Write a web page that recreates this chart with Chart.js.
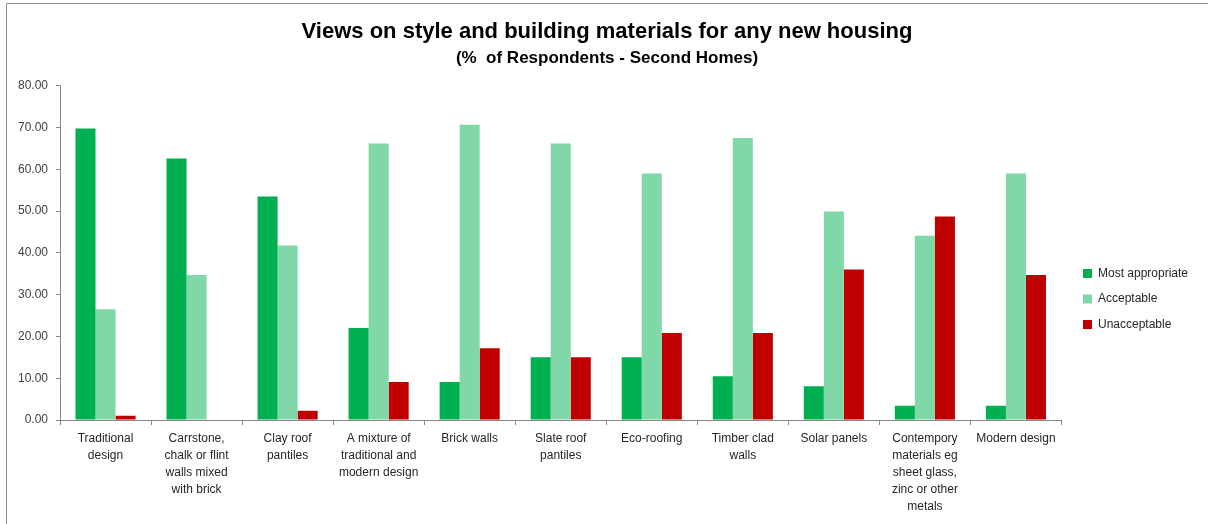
<!DOCTYPE html>
<html>
<head>
<meta charset="utf-8">
<script src="https://cdn.jsdelivr.net/npm/chart.js@4/dist/chart.umd.min.js"></script>
<style>
  html, body { margin: 0; padding: 0; background: #ffffff; }
  #wrap { position: relative; width: 1208px; height: 524px; }
</style>
</head>
<body>
<div id="wrap"><canvas id="c" width="1208" height="524"></canvas></div>
<script>
const categories = [
  ["Traditional", "design"],
  ["Carrstone,", "chalk or flint", "walls mixed", "with brick"],
  ["Clay roof", "pantiles"],
  ["A mixture of", "traditional and", "modern design"],
  ["Brick walls"],
  ["Slate roof", "pantiles"],
  ["Eco-roofing"],
  ["Timber clad", "walls"],
  ["Solar panels"],
  ["Contempory", "materials eg", "sheet glass,", "zinc or other", "metals"],
  ["Modern design"]
];
const mostAppropriate = [69.8, 62.6, 53.5, 22.0, 9.1, 15.0, 15.0, 10.5, 8.1, 3.4, 3.4];
const acceptable      = [26.5, 34.7, 41.8, 66.2, 70.7, 66.2, 59.0, 67.5, 49.9, 44.1, 59.0];
const unacceptable    = [1.0, 0.0, 2.2, 9.1, 17.2, 15.0, 20.8, 20.8, 36.0, 48.7, 34.7];
const seriesNames = ["Most appropriate", "Acceptable", "Unacceptable"];
const yTicks = [0, 10, 20, 30, 40, 50, 60, 70, 80];
const titleText = 'Views on style and building materials for any new housing';
const subtitleText = '(%  of Respondents - Second Homes)';

const FONT = "'Liberation Sans', Arial, sans-serif";
const TITLE_FONT = "'Liberation Sans', Arial, sans-serif";

const framePlugin = {
  id: 'frame',
  beforeDraw(chart) {
    const ctx = chart.ctx;
    ctx.save();
    ctx.fillStyle = '#ffffff';
    ctx.fillRect(0, 0, chart.width, chart.height);
    ctx.strokeStyle = '#8c8c8c';
    ctx.lineWidth = 1;
    ctx.beginPath();
    ctx.moveTo(6.5, chart.height);
    ctx.lineTo(6.5, 3.5);
    ctx.lineTo(chart.width, 3.5);
    ctx.stroke();
    ctx.restore();
  }
};

const boxShift = {
  id: 'boxShift',
  afterLayout(chart) {
    const lg = chart.legend;
    if (lg) {
      const dx = 1069.5 - lg.left;
      const dy = 37;
      lg.left += dx; lg.right += dx;
      lg.top += dy; lg.bottom += dy;
    }
    chart.boxes.forEach(b => {
      if (b && b.options && (b.options.text === titleText || b.options.text === subtitleText)) {
        b.left += 8; b.right += 8;
      }
    });
  }
};

new Chart(document.getElementById('c'), {
  type: 'bar',
  data: {
    labels: categories,
    datasets: [
      { label: seriesNames[0], data: mostAppropriate, backgroundColor: '#00b050', borderWidth: 0 },
      { label: seriesNames[1], data: acceptable, backgroundColor: '#80d8a8', borderWidth: 0 },
      { label: seriesNames[2], data: unacceptable, backgroundColor: '#c00000', borderWidth: 0 }
    ]
  },
  options: {
    responsive: false,
    animation: false,
    devicePixelRatio: 1,
    layout: { padding: { left: 8, right: 18, top: 0, bottom: 0 } },
    datasets: { bar: { barPercentage: 1.0, categoryPercentage: 0.66 } },
    plugins: {
      title: {
        display: true,
        text: titleText,
        font: { family: TITLE_FONT, size: 22, weight: 'bold' },
        color: '#000000',
        padding: { top: 19, bottom: 1 }
      },
      subtitle: {
        display: true,
        text: subtitleText,
        font: { family: TITLE_FONT, size: 17, weight: 'bold' },
        color: '#000000',
        padding: { top: 2, bottom: 17 }
      },
      legend: {
        position: 'right',
        align: 'center',
        labels: {
          boxWidth: 9,
          boxHeight: 9,
          padding: 13.5,
          color: '#262626',
          font: { family: FONT, size: 12 }
        }
      },
      tooltip: { enabled: false }
    },
    scales: {
      x: {
        grid: { display: true, offset: true, drawOnChartArea: false, drawTicks: true, tickLength: 5, color: '#868686' },
        border: { display: true, color: '#868686', width: 1 },
        ticks: {
          color: '#262626',
          font: { family: FONT, size: 12, lineHeight: 1.42 },
          maxRotation: 0, minRotation: 0, autoSkip: false, padding: 5
        },
        afterFit(scale) { scale.height = 104; }
      },
      y: {
        min: 0, max: 80,
        afterBuildTicks(scale) { scale.ticks = yTicks.map(v => ({ value: v })); },
        grid: { display: true, drawOnChartArea: false, drawTicks: true, tickLength: 4, color: '#868686' },
        border: { display: true, color: '#868686', width: 1 },
        ticks: {
          color: '#404040',
          font: { family: FONT, size: 12 },
          padding: 8,
          callback: (v) => Number(v).toFixed(2)
        },
        afterFit(scale) { scale.width = 52; }
      }
    }
  },
  plugins: [framePlugin, boxShift]
});
</script>
</body>
</html>
